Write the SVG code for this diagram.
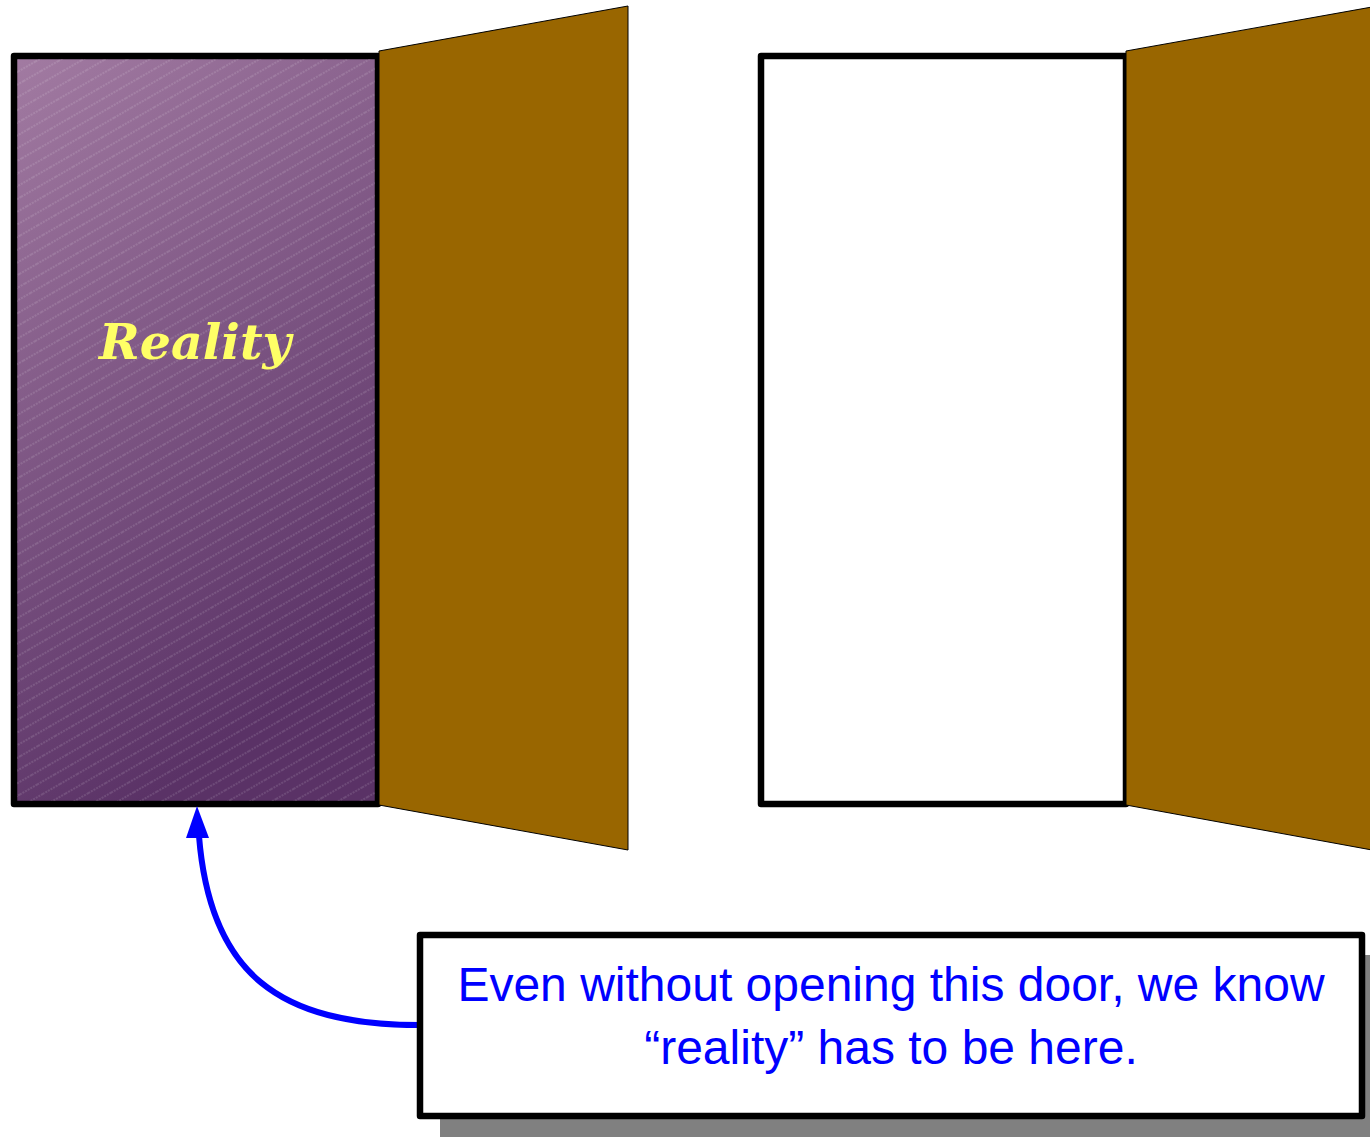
<svg xmlns="http://www.w3.org/2000/svg" width="1370" height="1137" viewBox="0 0 1370 1137">
<defs>
<linearGradient id="purp" x1="0" y1="0" x2="0.35" y2="1">
<stop offset="0" stop-color="#a27ba2"/>
<stop offset="1" stop-color="#5a3266"/>
</linearGradient>
<pattern id="hatch" patternUnits="userSpaceOnUse" width="20" height="11" patternTransform="rotate(-30)">
<line x1="0" y1="5" x2="20" y2="5" stroke="#ffffff" stroke-opacity="0.4" stroke-width="0.6" stroke-dasharray="2 1"/>
</pattern>
<style>
.frame{stroke:#000;stroke-width:6.5;stroke-linejoin:round}
.door{fill:#996600;stroke:#000;stroke-width:1}
.lbl{font-family:"Liberation Sans",Arial,sans-serif;font-size:48px;fill:#0000ff;text-anchor:middle}
</style>
</defs>
<g id="left-door">
<rect class="frame" x="14" y="56" width="364" height="748" fill="url(#purp)"/>
<rect x="17" y="59" width="358" height="742" fill="url(#hatch)"/>
<polygon class="door" points="379,51 628,6 628,850 379,805"/>
<text x="195" y="359" font-family="'DejaVu Serif',serif" font-weight="bold" font-style="italic" font-size="49" fill="#ffff66" text-anchor="middle">Reality</text>
</g>
<g id="right-door">
<rect class="frame" x="761" y="56" width="365" height="748" fill="#ffffff"/>
<polygon class="door" points="1126,51 1372,7 1372,850 1126,805"/>
</g>
<g id="connectors">
<path d="M420,1025 C280,1025 210,975 199,836" fill="none" stroke="#0000ff" stroke-width="6"/>
<polygon points="197,806 186,838 209,838" fill="#0000ff"/>
</g>
<g id="callout">
<rect x="440" y="955" width="942" height="182" fill="#808080"/>
<rect class="frame" x="420" y="935" width="942" height="181" fill="#ffffff"/>
<text class="lbl" x="891" y="1001">Even without opening this door, we know</text>
<text class="lbl" x="891" y="1064">“reality” has to be here.</text>
</g>
</svg>
